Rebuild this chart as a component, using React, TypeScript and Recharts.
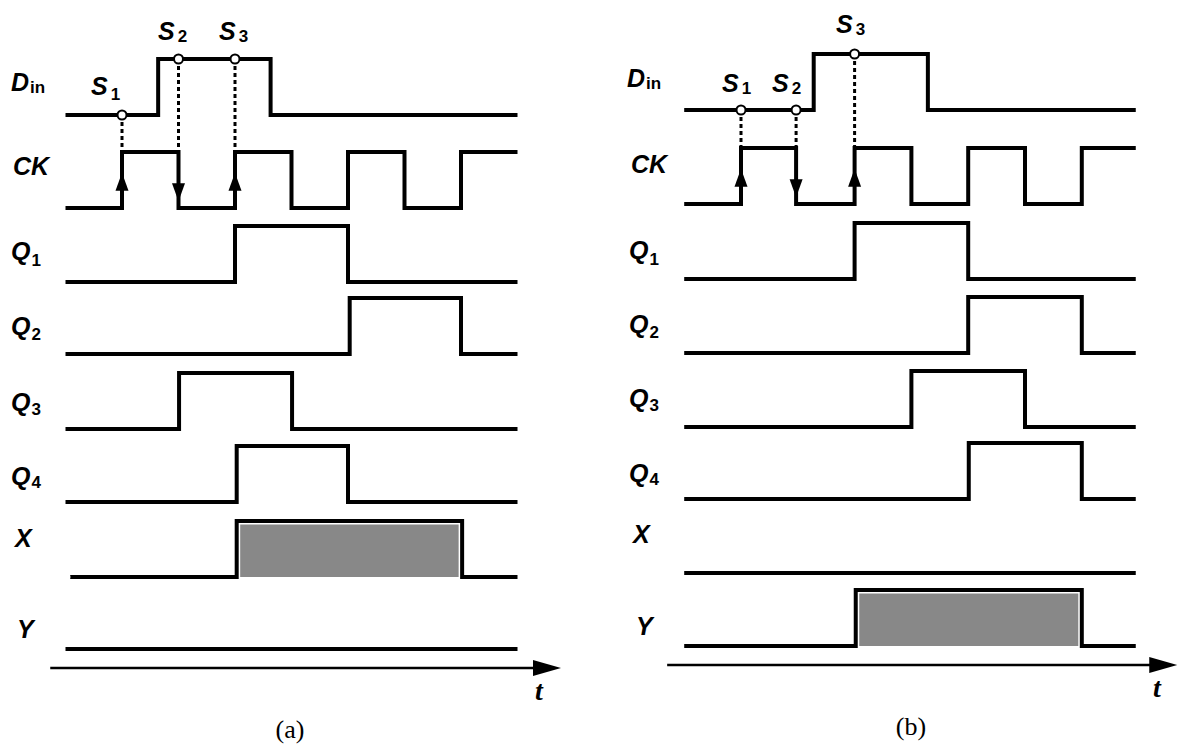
import React from 'react';
import { ComposedChart, Line, Area, XAxis, YAxis, ReferenceLine, ReferenceDot } from 'recharts';

// time is counted in half clock periods, 0 = first sampling edge (S1)
// every signal is a list of [time, level] steps; a level holds until the next step

// (a)
const A_DIN = [[-1, 0], [0.64, 1], [2.63, 0], [7, 0]];
const A_CK = [[-1, 0], [0, 1], [1, 0], [2, 1], [3, 0], [4, 1], [5, 0], [6, 1], [7, 1]];
const A_Q1 = [[-1, 0], [2, 1], [4, 0], [7, 0]];
const A_Q2 = [[-1, 0], [4.03, 1], [6, 0], [7, 0]];
const A_Q3 = [[-1, 0], [1.01, 1], [3.01, 0], [7, 0]];
const A_Q4 = [[-1, 0], [2.03, 1], [4, 0], [7, 0]];
const A_X = [[-1, 0], [2.03, 1], [6.02, 0], [7, 0]];
const A_Y = [[-1, 0], [7, 0]];
const A_SAMPLES = [0, 1, 2];
const A_SAMPLE_EDGES = ['up', 'down', 'up'];

// (b)
const B_DIN = [[-1, 0], [1.28, 1], [3.29, 0], [6.95, 0]];
const B_CK = [[-1, 0], [0, 1], [0.97, 0], [2, 1], [3, 0], [4, 1], [5, 0], [6, 1], [6.95, 1]];
const B_Q1 = [[-1, 0], [2, 1], [4, 0], [6.95, 0]];
const B_Q2 = [[-1, 0], [4, 1], [6, 0], [6.95, 0]];
const B_Q3 = [[-1, 0], [3, 1], [5, 0], [6.95, 0]];
const B_Q4 = [[-1, 0], [4.01, 1], [6, 0], [6.95, 0]];
const B_X = [[-1, 0], [6.95, 0]];
const B_Y = [[-1, 0], [2.02, 1], [6, 0], [6.95, 0]];
const B_SAMPLES = [0, 0.97, 2];
const B_SAMPLE_EDGES = ['up', 'down', 'up'];

const SAMPLE_NAMES = ['1', '2', '3'];

const AMP = 56;
const H = 745;
const SANS = '"Liberation Sans", Arial, Helvetica, sans-serif';
const SERIF = '"Liberation Serif", "Times New Roman", serif';

const PANELS = [
  {
    id: 'a',
    left: 0,
    width: 590,
    origin: 122,
    unit: 56.5,
    signals: [
      { key: 'din', steps: A_DIN, base: 115 },
      { key: 'ck', steps: A_CK, base: 208 },
      { key: 'q1', steps: A_Q1, base: 282 },
      { key: 'q2', steps: A_Q2, base: 354 },
      { key: 'q3', steps: A_Q3, base: 429 },
      { key: 'q4', steps: A_Q4, base: 502 },
      { key: 'x', steps: A_X, base: 577, shaded: true },
      { key: 'y', steps: A_Y, base: 649 },
    ],
    samples: A_SAMPLES,
    edges: A_SAMPLE_EDGES,
    axis: { from: -1.27, to: 7.77, y: 668 },
    labels: [
      { main: 'D', sub: 'in', x: 11, y: 91, dy: 2 },
      { main: 'CK', x: 13, y: 175 },
      { main: 'Q', sub: '1', x: 11, y: 260, dy: 6 },
      { main: 'Q', sub: '2', x: 11, y: 335, dy: 5 },
      { main: 'Q', sub: '3', x: 11, y: 411, dy: 4 },
      { main: 'Q', sub: '4', x: 11, y: 485, dy: 3 },
      { main: 'X', x: 15, y: 547 },
      { main: 'Y', x: 17, y: 638 },
    ],
    sampleLabels: [
      { x: 91, y: 95, dy: 5 },
      { x: 158, y: 40, dy: 2 },
      { x: 219, y: 40, dy: 2 },
    ],
    t: { x: 539, y: 700 },
    caption: { x: 290, y: 738 },
  },
  {
    id: 'b',
    left: 590,
    width: 590,
    origin: 151,
    unit: 56.8,
    signals: [
      { key: 'din', steps: B_DIN, base: 110 },
      { key: 'ck', steps: B_CK, base: 204 },
      { key: 'q1', steps: B_Q1, base: 279 },
      { key: 'q2', steps: B_Q2, base: 353 },
      { key: 'q3', steps: B_Q3, base: 427 },
      { key: 'q4', steps: B_Q4, base: 499 },
      { key: 'x', steps: B_X, base: 573 },
      { key: 'y', steps: B_Y, base: 646, shaded: true },
    ],
    samples: B_SAMPLES,
    edges: B_SAMPLE_EDGES,
    axis: { from: -1.3, to: 7.68, y: 665 },
    labels: [
      { main: 'D', sub: 'in', x: 627, y: 87, dy: 2 },
      { main: 'CK', x: 631, y: 173 },
      { main: 'Q', sub: '1', x: 629, y: 259, dy: 6 },
      { main: 'Q', sub: '2', x: 629, y: 333, dy: 5 },
      { main: 'Q', sub: '3', x: 629, y: 407, dy: 4 },
      { main: 'Q', sub: '4', x: 629, y: 482, dy: 3 },
      { main: 'X', x: 633, y: 543 },
      { main: 'Y', x: 636, y: 635 },
    ],
    sampleLabels: [
      { x: 722, y: 92, dy: 2 },
      { x: 772, y: 92, dy: 2 },
      { x: 836, y: 33, dy: 2 },
    ],
    t: { x: 1157, y: 697 },
    caption: { x: 911, y: 735 },
  },
];

const levelAt = (steps: number[][], t: number) => {
  let v = steps[0][1];
  for (const [st, sv] of steps) if (st <= t) v = sv;
  return v;
};

const Tri = ({ cx, cy, dir }: { cx: number; cy: number; dir: string }) => {
  if (dir === 'up') return <path d={`M${cx},${cy - 10} L${cx + 6.5},${cy + 8} L${cx - 6.5},${cy + 8} Z`} fill="#000" />;
  if (dir === 'down') return <path d={`M${cx},${cy + 10} L${cx + 6.5},${cy - 8} L${cx - 6.5},${cy - 8} Z`} fill="#000" />;
  return <path d={`M${cx},${cy} L${cx - 28},${cy - 8} L${cx - 28},${cy + 8} Z`} fill="#000" />;
};

function Panel({ cfg }: { cfg: any }) {
  const domain = [-cfg.origin / cfg.unit, (cfg.width - cfg.origin) / cfg.unit];
  const din = cfg.signals[0];
  const ck = cfg.signals[1];
  const toRows = (s: any) => s.steps.map(([t, v]: number[]) => ({ t, y: s.base - v * AMP }));

  return (
    <div style={{ position: 'absolute', left: cfg.left, top: 0 }}>
      <ComposedChart width={cfg.width} height={H} margin={{ top: 0, right: 0, bottom: 0, left: 0 }}>
        <XAxis type="number" dataKey="t" domain={domain} allowDataOverflow hide />
        <YAxis type="number" domain={[0, H]} reversed allowDataOverflow hide />

        {cfg.signals
          .filter((s: any) => s.shaded)
          .map((s: any) => (
            <Area
              key={'fill-' + s.key}
              data={toRows(s)}
              dataKey="y"
              type="stepAfter"
              baseValue={s.base}
              fill="#888888"
              fillOpacity={1}
              stroke="#fff"
              strokeWidth={7}
              isAnimationActive={false}
            />
          ))}

        {cfg.samples.map((t: number, i: number) => (
          <ReferenceLine
            key={'dash-' + i}
            segment={[
              { x: t, y: din.base - levelAt(din.steps, t) * AMP },
              { x: t, y: ck.base - AMP },
            ]}
            stroke="#000"
            strokeWidth={3}
            strokeDasharray="4 3"
          />
        ))}

        {cfg.signals.map((s: any) => (
          <Line
            key={s.key}
            data={toRows(s)}
            dataKey="y"
            type="stepAfter"
            stroke="#000"
            strokeWidth={4}
            dot={false}
            activeDot={false}
            isAnimationActive={false}
          />
        ))}

        {cfg.samples.map((t: number, i: number) => (
          <ReferenceDot
            key={'arrow-' + i}
            x={t}
            y={ck.base - (cfg.edges[i] === 'up' ? 0.45 : 0.3) * AMP}
            shape={(p: any) => <Tri cx={p.cx} cy={p.cy} dir={cfg.edges[i]} />}
          />
        ))}

        {cfg.samples.map((t: number, i: number) => (
          <ReferenceDot
            key={'dot-' + i}
            x={t}
            y={din.base - levelAt(din.steps, t) * AMP}
            r={4.5}
            fill="#fff"
            stroke="#000"
            strokeWidth={2}
          />
        ))}

        <ReferenceLine
          segment={[
            { x: cfg.axis.from, y: cfg.axis.y },
            { x: cfg.axis.to - 0.3, y: cfg.axis.y },
          ]}
          stroke="#000"
          strokeWidth={2.5}
        />
        <ReferenceDot x={cfg.axis.to} y={cfg.axis.y} shape={(p: any) => <Tri cx={p.cx} cy={p.cy} dir="right" />} />
      </ComposedChart>
    </div>
  );
}

function Texts() {
  return (
    <svg width={1180} height={H} style={{ position: 'absolute', left: 0, top: 0, pointerEvents: 'none' }}>
      {PANELS.map((cfg) => (
        <g key={cfg.id}>
          {cfg.labels.map((l: any, i: number) => (
            <text key={i} x={l.x} y={l.y} fontFamily={SANS} fontWeight="bold" fontStyle="italic" fontSize={25} fill="#000">
              <tspan>{l.main}</tspan>
              {l.sub && (
                <tspan fontSize={17} dx={1} dy={l.dy} fontStyle="normal">
                  {l.sub}
                </tspan>
              )}
            </text>
          ))}
          {cfg.sampleLabels.map((l: any, i: number) => (
            <text key={'s' + i} x={l.x} y={l.y} fontFamily={SANS} fontWeight="bold" fontStyle="italic" fontSize={25} fill="#000">
              <tspan>S</tspan>
              <tspan fontSize={17} dx={3} dy={l.dy} fontStyle="normal">
                {SAMPLE_NAMES[i]}
              </tspan>
            </text>
          ))}
          <text x={cfg.t.x} y={cfg.t.y} textAnchor="middle" fontFamily={SERIF} fontWeight="bold" fontStyle="italic" fontSize={28} fill="#000">
            t
          </text>
          <text x={cfg.caption.x} y={cfg.caption.y} textAnchor="middle" fontFamily={SERIF} fontSize={26} fill="#000">
            ({cfg.id})
          </text>
        </g>
      ))}
    </svg>
  );
}

export default function App() {
  return (
    <div style={{ position: 'absolute', left: 0, top: 0, width: 1180, height: H, background: '#fff', overflow: 'hidden' }}>
      {PANELS.map((cfg) => (
        <Panel key={cfg.id} cfg={cfg} />
      ))}
      <Texts />
    </div>
  );
}
